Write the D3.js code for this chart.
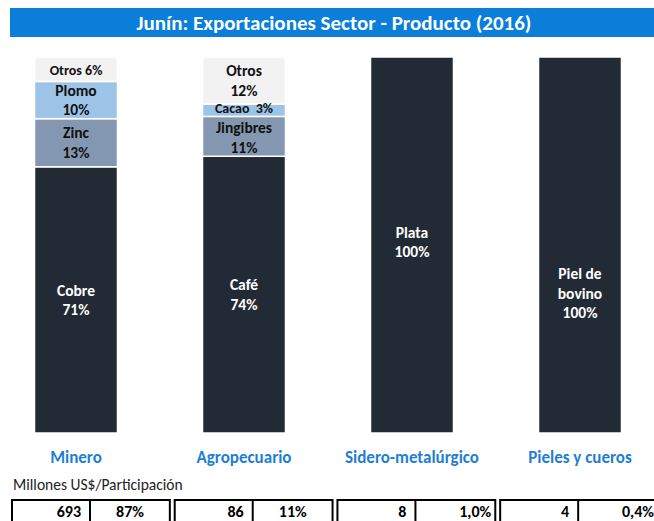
<!DOCTYPE html>
<html lang="es">
<head>
    <meta charset="UTF-8">
    <title>Junín: Exportaciones Sector - Producto (2016)</title>
    <style>
        body {
            margin: 0;
            background: #fff;
        }
        svg {
            display: block;
            font-family: Carlito, Calibri, Lato, sans-serif;
        }
        .bar-label {
            font-weight: bold;
            font-size: 15.5px;
            white-space: pre;
        }
        .sector-label {
            font-weight: bold;
            font-size: 17px;
            fill: #1f7ed4;
        }
        .cell-text {
            font-weight: bold;
            font-size: 16px;
            fill: #000;
        }
    </style>
    <script src="https://d3js.org/d3.v7.min.js"></script>
</head>
<body>
    <svg id="chart" width="654" height="521"></svg>
    <script>
        const sectors = ["Minero", "Agropecuario", "Sidero-metalúrgico", "Pieles y cueros"];

        // product share (%) inside each sector, bottom to top
        const mineroProductos = ["Cobre", "Zinc", "Plomo", "Otros"];
        const mineroShares = [70.8, 12.8, 9.9, 6.4];
        const agroProductos = ["Café", "Jingibres", "Cacao", "Otros"];
        const agroShares = [73.6, 10.6, 3.3, 12.4];
        const sideroProductos = ["Plata"];
        const sideroShares = [100];
        const pielesProductos = ["Piel de bovino"];
        const pielesShares = [100];

        // table under the chart
        const millones = [693, 86, 8, 4];
        const participacion = ["87%", "11%", "1,0%", "0,4%"];

        const colorByLevel = ["#222b35", "#8497b0", "#9dc3e6", "#f2f2f2"];

        const stacks = [
            [mineroProductos, mineroShares],
            [agroProductos, agroShares],
            [sideroProductos, sideroShares],
            [pielesProductos, pielesShares]
        ];

        const segments = [];
        stacks.forEach(([names, shares], i) => {
            let acc = 0;
            names.forEach((name, j) => {
                segments.push({ sector: sectors[i], name: name, level: j, y0: acc, y1: acc + shares[j], share: shares[j] });
                acc += shares[j];
            });
        });

        const svg = d3.select("#chart");

        // title bar
        svg.append("rect")
            .attr("x", 10)
            .attr("y", 8)
            .attr("width", 644)
            .attr("height", 29)
            .attr("fill", "#0a7ed9");

        svg.append("text")
            .attr("x", 334)
            .attr("y", 29.5)
            .attr("text-anchor", "middle")
            .attr("fill", "#fff")
            .style("font-weight", "bold")
            .style("font-size", "21px")
            .text("Junín: Exportaciones Sector - Producto (2016)");

        const x = d3.scaleBand()
            .domain(sectors)
            .range([-8, 664])
            .paddingInner(0.506)
            .paddingOuter(0.253);

        const y = d3.scaleLinear()
            .domain([0, 100])
            .range([433, 57]);

        svg.append("g")
            .selectAll("rect")
            .data(segments)
            .join("rect")
            .attr("x", d => x(d.sector))
            .attr("width", x.bandwidth())
            .attr("y", d => y(d.y1))
            .attr("height", d => y(d.y0) - y(d.y1))
            .attr("fill", d => colorByLevel[d.level])
            .attr("stroke", "#fff")
            .attr("stroke-width", 1.5);

        // labels inside the segments (a few were nudged by hand in the original)
        const lineH = 19.5;
        const labelShift = { "Plata": -3, "Piel de bovino": 48, "Cacao": -2.5, "Jingibres": 1 };
        const labels = svg.append("g");

        segments.forEach(d => {
            const pct = Math.round(d.share) + "%";
            const segH = y(d.y0) - y(d.y1);
            let lines;
            if (segH < 30) {
                lines = [d.name + (d.name === "Cacao" ? "  " : " ") + pct];
            } else if (d.name.length > 10) {
                const words = d.name.split(" ");
                lines = [words.slice(0, 2).join(" "), words.slice(2).join(" "), pct];
            } else {
                lines = [d.name, pct];
            }
            const cx = x(d.sector) + x.bandwidth() / 2;
            const cy = (y(d.y0) + y(d.y1)) / 2 + (labelShift[d.name] || 0);
            const small = lines.length === 1;
            labels.append("text")
                .attr("class", "bar-label")
                .attr("xml:space", "preserve")
                .attr("text-anchor", "middle")
                .attr("fill", d.level === 0 ? "#fff" : "#111")
                .style("font-size", small ? "14px" : null)
                .selectAll("tspan")
                .data(lines)
                .join("tspan")
                .attr("x", cx)
                .attr("y", (t, k) => cy - (lines.length - 1) * lineH / 2 + k * lineH + 5.5)
                .text(t => t);
        });

        // sector names
        svg.append("g")
            .selectAll("text")
            .data(sectors)
            .join("text")
            .attr("class", "sector-label")
            .attr("x", d => x(d) + x.bandwidth() / 2)
            .attr("y", 463)
            .attr("text-anchor", "middle")
            .text(d => d);

        svg.append("text")
            .attr("x", 13)
            .attr("y", 490)
            .attr("fill", "#222")
            .style("font-size", "15.5px")
            .text("Millones US$/Participación");

        // value boxes
        const boxX = d3.scaleBand()
            .domain(sectors)
            .range([12, 658])
            .paddingInner(0.03)
            .paddingOuter(0);

        const boxes = svg.append("g")
            .selectAll("g")
            .data(sectors)
            .join("g")
            .attr("transform", d => `translate(${boxX(d)},500)`);

        boxes.append("rect")
            .attr("width", boxX.bandwidth())
            .attr("height", 40)
            .attr("fill", "none")
            .attr("stroke", "#000")
            .attr("stroke-width", 2);

        boxes.append("line")
            .attr("x1", 78)
            .attr("x2", 78)
            .attr("y1", 0)
            .attr("y2", 40)
            .attr("stroke", "#000")
            .attr("stroke-width", 2);

        boxes.append("text")
            .attr("class", "cell-text")
            .attr("x", 69)
            .attr("y", 16.5)
            .attr("text-anchor", "end")
            .text((d, i) => millones[i]);

        boxes.append("text")
            .attr("class", "cell-text")
            .attr("x", (d, i) => participacion[i].length > 3 ? boxX.bandwidth() - 4 : 118)
            .attr("y", 16.5)
            .attr("text-anchor", (d, i) => participacion[i].length > 3 ? "end" : "middle")
            .text((d, i) => participacion[i]);
    </script>
</body>
</html>
